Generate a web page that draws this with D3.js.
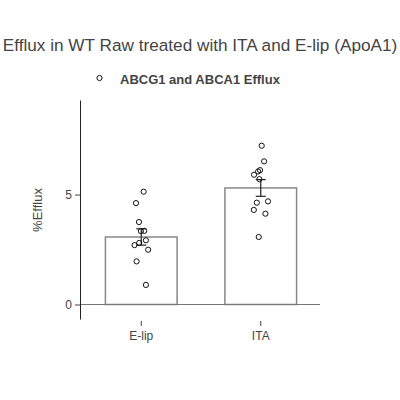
<!DOCTYPE html>
<html><head><meta charset="utf-8">
<script src="https://cdn.jsdelivr.net/npm/d3@7"></script>
<style>body{margin:0;background:#fff}svg{display:block}</style>
</head><body>
<svg id="c" width="400" height="400"></svg>
<script>
const categories = ["E-lip", "ITA"];
const means = [3.07, 5.30];
const errors = [0.37, 0.38];
const pointsElip = [5.13, 4.61, 3.75, 3.34, 3.35, 2.70, 2.80, 2.92, 2.49, 1.96, 0.89];
const pointsIta = [7.22, 6.51, 6.11, 6.05, 5.90, 5.70, 4.69, 4.63, 4.30, 4.13, 3.07];
const jitterElip = [0.02, -0.044, -0.019, -0.003, 0.025, -0.056, -0.017, 0.039, 0.058, -0.039, 0.039];
const jitterIta = [0.008, 0.028, -0.006, -0.022, -0.056, -0.011, 0.061, -0.033, -0.058, 0.039, -0.017];
const yTicks = [0, 5];
const title = "Efflux in WT Raw treated with ITA and E-lip (ApoA1)";
const legendLabel = "ABCG1 and ABCA1 Efflux";
const yLabel = "%Efflux";

const font = "'Liberation Sans', Arial, sans-serif";
const svg = d3.select("#c");
const x = d3.scaleBand().domain(categories).range([81.5, 320.5]).paddingInner(0.4).paddingOuter(0.2);
const xc = d => x(d) + x.bandwidth() / 2;
const y = d3.scaleLinear().domain([-0.66, 9.3]).range([319, 100]);

// title
svg.append("text").attr("x", 200).attr("y", 51).attr("text-anchor", "middle")
  .attr("font-family", font).attr("font-size", 17.2).attr("fill", "#444").text(title);

// legend
svg.append("circle").attr("cx", 99.5).attr("cy", 78).attr("r", 2.6)
  .attr("fill", "none").attr("stroke", "#111").attr("stroke-width", 1);
svg.append("text").attr("x", 120).attr("y", 83.5).attr("font-family", font)
  .attr("font-size", 13).attr("font-weight", "bold").attr("fill", "#444").text(legendLabel);

// bars
svg.selectAll("rect.bar").data(categories).join("rect").attr("class", "bar")
  .attr("x", d => x(d)).attr("width", x.bandwidth())
  .attr("y", (d, i) => y(means[i])).attr("height", (d, i) => y(0) - y(means[i]))
  .attr("fill", "#fff").attr("stroke", "#888").attr("stroke-width", 1.5);

// zero line
svg.append("line").attr("x1", 80).attr("x2", 320).attr("y1", y(0)).attr("y2", y(0))
  .attr("stroke", "#777").attr("stroke-width", 1.2);

// y axis
const yAxis = svg.append("g").attr("transform", "translate(80,0)")
  .call(d3.axisLeft(y).tickValues(yTicks).tickSize(5).tickPadding(3).tickSizeOuter(0));
yAxis.select(".domain").attr("stroke", "#222");
yAxis.selectAll(".tick line").attr("stroke", "#444");
yAxis.selectAll("text").attr("font-family", font).attr("font-size", 12).attr("fill", "#444");

// x axis ticks (below plot)
const xAxis = svg.append("g").attr("transform", "translate(0,321)")
  .call(d3.axisBottom(x).tickSize(5).tickPadding(5).tickSizeOuter(0));
xAxis.select(".domain").remove();
xAxis.selectAll(".tick line").attr("stroke", "#444");
xAxis.selectAll("text").attr("font-family", font).attr("font-size", 12).attr("fill", "#444");

// error bars
const eg = svg.append("g").attr("stroke", "#222").attr("stroke-width", 1.2);
categories.forEach((c, i) => {
  const cx = xc(c), hi = y(means[i] + errors[i]), lo = y(means[i] - errors[i]);
  eg.append("line").attr("x1", cx).attr("x2", cx).attr("y1", hi).attr("y2", lo);
  eg.append("line").attr("x1", cx - 5).attr("x2", cx + 5).attr("y1", hi).attr("y2", hi);
  eg.append("line").attr("x1", cx - 5).attr("x2", cx + 5).attr("y1", lo).attr("y2", lo);
});

// points
const allPts = [
  ...pointsElip.map((v, i) => ({c: categories[0], v, j: jitterElip[i]})),
  ...pointsIta.map((v, i) => ({c: categories[1], v, j: jitterIta[i]}))
];
svg.selectAll("circle.pt").data(allPts).join("circle").attr("class", "pt")
  .attr("cx", d => xc(d.c) + d.j * (x.step())).attr("cy", d => y(d.v)).attr("r", 2.6)
  .attr("fill", "none").attr("stroke", "#111").attr("stroke-width", 1);

// y label
svg.append("text").attr("transform", "translate(41.5,210) rotate(-90)").attr("text-anchor", "middle")
  .attr("font-family", font).attr("font-size", 13).attr("fill", "#444").text(yLabel);
</script>
</body></html>
